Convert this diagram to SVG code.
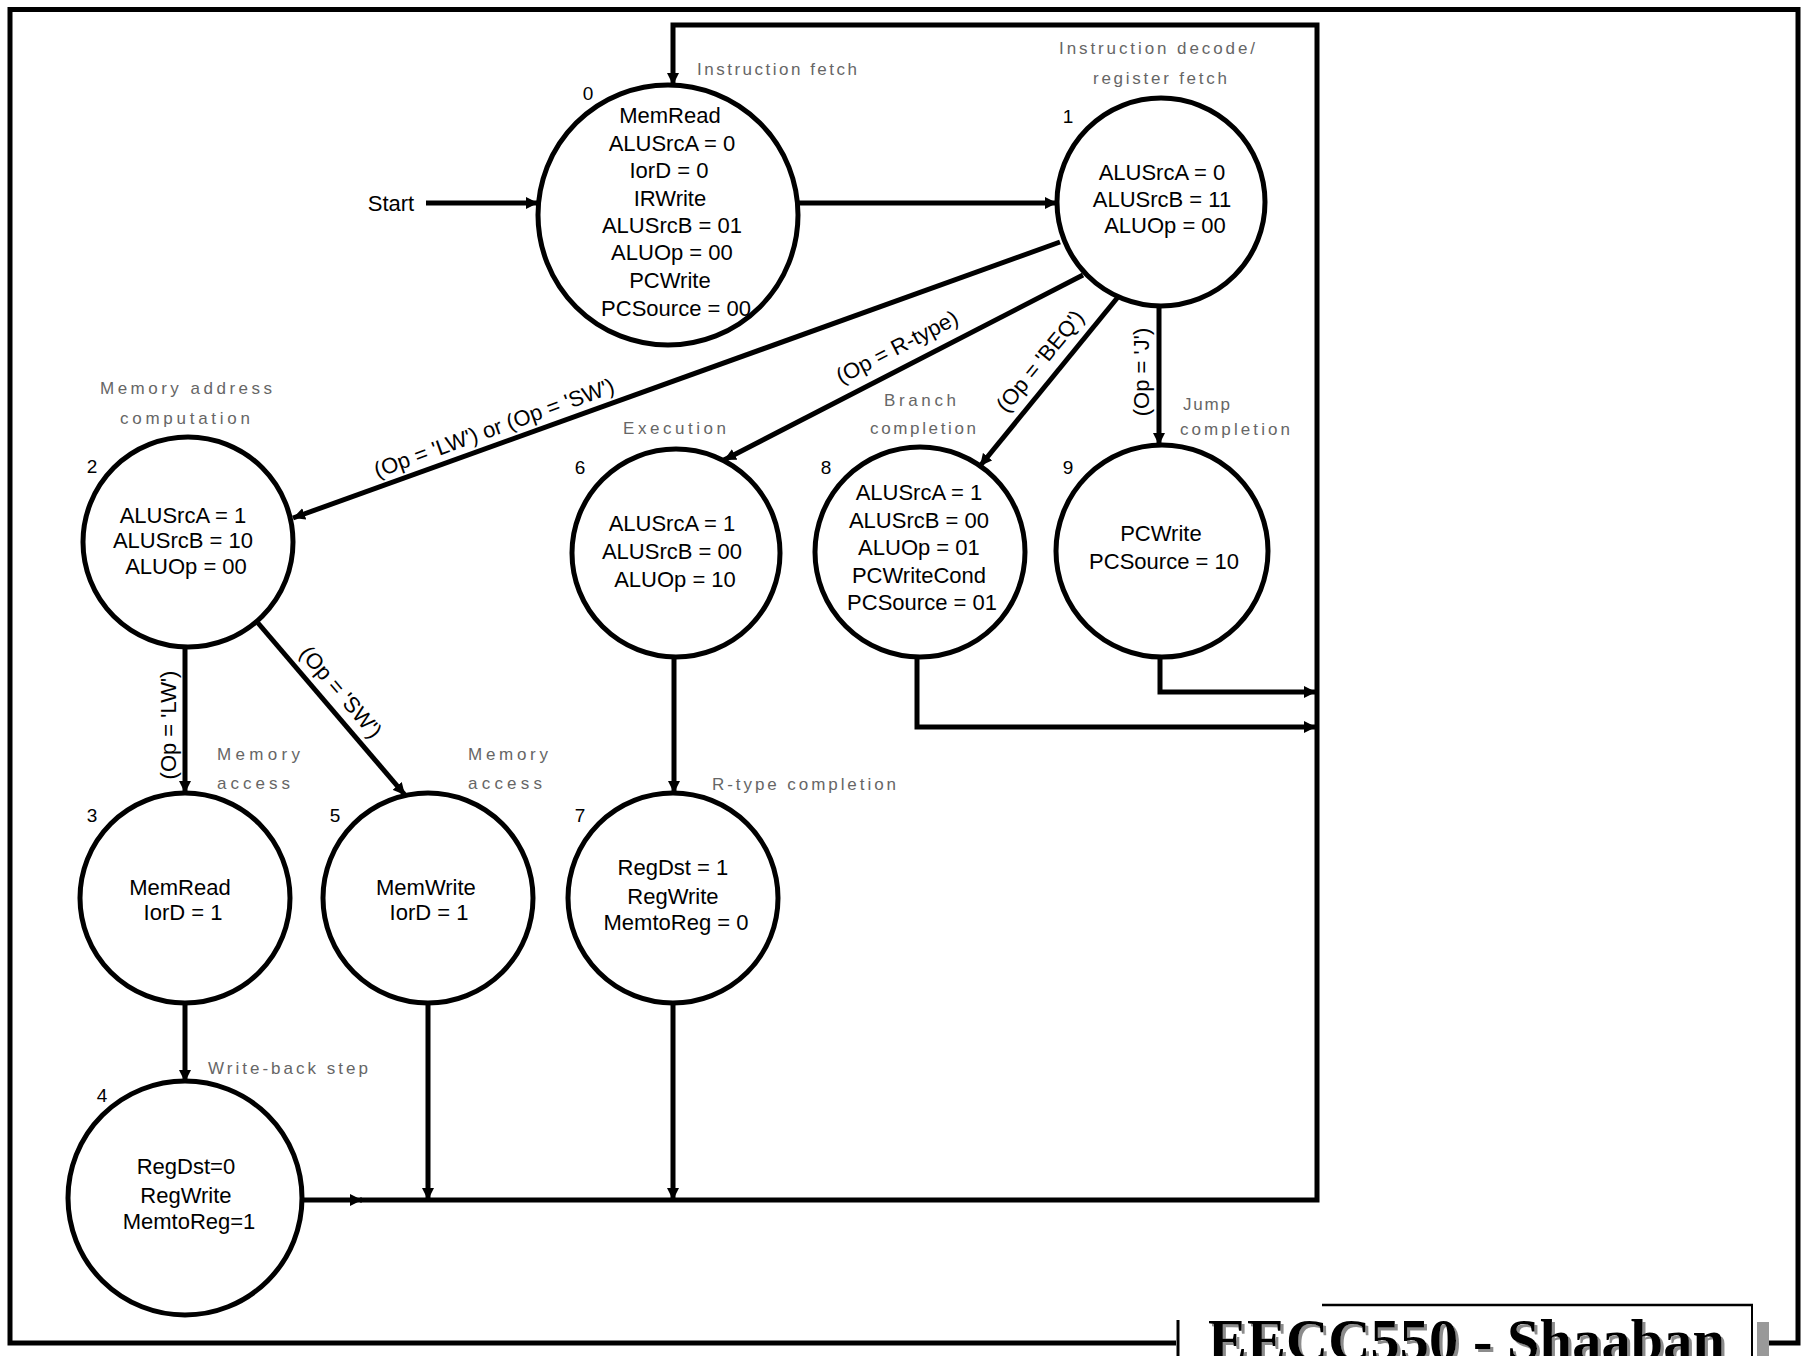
<svg xmlns="http://www.w3.org/2000/svg" width="1807" height="1356" viewBox="0 0 1807 1356">
  <style>
    .bg { fill: #fff; }
    .frame { fill: none; stroke: #000; stroke-width: 5; }
    .state { fill: #fff; stroke: #000; stroke-width: 5; }
    .body { font-family: "Liberation Sans", Arial, sans-serif; font-size: 22px; text-anchor: middle; fill: #000; }
    .num { font-family: "Liberation Sans", Arial, sans-serif; font-size: 19px; text-anchor: middle; fill: #000; }
    .step { font-family: "Liberation Sans", Arial, sans-serif; font-size: 17px; fill: #666; }
    .cond { font-family: "Liberation Sans", Arial, sans-serif; font-size: 22px; text-anchor: middle; fill: #000; }
    .wire { fill: none; stroke: #000; stroke-width: 5; }
    .title { font-family: "Liberation Serif", "Times New Roman", serif; font-size: 59px; font-weight: bold; fill: #000; }
  </style>
  <defs>
    <marker id="arrow" markerUnits="userSpaceOnUse" markerWidth="13" markerHeight="13" refX="12" refY="6.5" orient="auto">
      <path d="M0,0.5 L12,6.5 L0,12.5 Z" fill="#000"/>
    </marker>
    <filter id="shadow" x="-5%" y="-20%" width="110%" height="140%">
      <feDropShadow dx="3" dy="3" stdDeviation="0.4" flood-color="#8c8c8c" flood-opacity="1"/>
    </filter>
  </defs>

  <rect class="bg" x="0" y="0" width="1807" height="1356"/>

  <!-- slide frame -->
  <rect class="frame" x="10" y="9.5" width="1788" height="1333.5"/>

  <!-- connectors -->
  <g id="connectors">
    <path class="wire" d="M426,203 H538" marker-end="url(#arrow)"/>
    <path class="wire" d="M798,203 H1057" marker-end="url(#arrow)"/>
    <path class="wire" d="M1060,242 L293,518" marker-end="url(#arrow)"/>
    <path class="wire" d="M1083,275 L724,460" marker-end="url(#arrow)"/>
    <path class="wire" d="M1118,297 L980,466" marker-end="url(#arrow)"/>
    <path class="wire" d="M1159,306 V445" marker-end="url(#arrow)"/>
    <path class="wire" d="M185,647 V793" marker-end="url(#arrow)"/>
    <path class="wire" d="M258,623 L405,795" marker-end="url(#arrow)"/>
    <path class="wire" d="M674,657 V793" marker-end="url(#arrow)"/>
    <path class="wire" d="M185,1003 V1082" marker-end="url(#arrow)"/>
    <path class="wire" d="M428,1003 V1200" marker-end="url(#arrow)"/>
    <path class="wire" d="M673,1003 V1200" marker-end="url(#arrow)"/>
    <path class="wire" d="M917,657 V727 H1316" marker-end="url(#arrow)"/>
    <path class="wire" d="M1160,657 V692 H1316" marker-end="url(#arrow)"/>
    <!-- return path to state 0 -->
    <path class="wire" d="M302,1200 H362" marker-end="url(#arrow)"/>
    <path class="wire" d="M360,1200 H1317 V25 H673 V85" marker-end="url(#arrow)"/>

    <!-- branch conditions -->
    <g transform="translate(494,428) rotate(-19.8)"><text class="cond" x="0" y="7.5">(Op = 'LW') or (Op = 'SW')</text></g>
    <g transform="translate(897,347) rotate(-27.3)"><text class="cond" x="0" y="7.5">(Op = R-type)</text></g>
    <g transform="translate(1040,361) rotate(-50.7)"><text class="cond" x="0" y="7.5">(Op = 'BEQ')</text></g>
    <g transform="translate(1141,372) rotate(-90)"><text class="cond" x="0" y="7.5">(Op = 'J')</text></g>
    <g transform="translate(168,725) rotate(-90)"><text class="cond" x="0" y="7.5">(Op = 'LW')</text></g>
    <g transform="translate(341,692) rotate(49.4)"><text class="cond" x="0" y="7.5">(Op = 'SW')</text></g>
  </g>

  <text class="body" x="391" y="211">Start</text>

  <!-- state 0: instruction fetch -->
  <g id="state0">
    <circle class="state" cx="668" cy="215" r="130"/>
    <text class="num" x="588" y="100">0</text>
    <text class="step" x="697" y="75" textLength="160">Instruction fetch</text>
    <text class="body">
      <tspan x="673" y="123">MemRead</tspan>
      <tspan x="675" y="151">ALUSrcA = 0</tspan>
      <tspan x="672" y="178">IorD = 0</tspan>
      <tspan x="673" y="206">IRWrite</tspan>
      <tspan x="675" y="233">ALUSrcB = 01</tspan>
      <tspan x="675" y="260">ALUOp = 00</tspan>
      <tspan x="673" y="288">PCWrite</tspan>
      <tspan x="676" y="316">PCSource = 00</tspan>
    </text>
  </g>

  <!-- state 1: decode / register fetch -->
  <g id="state1">
    <circle class="state" cx="1161" cy="202" r="104"/>
    <text class="num" x="1068" y="123">1</text>
    <text class="step" x="1059" y="54" textLength="196">Instruction decode/</text>
    <text class="step" x="1093" y="84" textLength="134">register fetch</text>
    <text class="body">
      <tspan x="1165" y="180">ALUSrcA = 0</tspan>
      <tspan x="1165" y="207">ALUSrcB = 11</tspan>
      <tspan x="1165" y="233">ALUOp = 00</tspan>
    </text>
  </g>

  <!-- state 2: memory address computation -->
  <g id="state2">
    <circle class="state" cx="188" cy="542" r="105"/>
    <text class="num" x="92" y="473">2</text>
    <text class="step" x="100" y="394" textLength="172">Memory address</text>
    <text class="step" x="120" y="424" textLength="130">computation</text>
    <text class="body">
      <tspan x="186" y="523">ALUSrcA = 1</tspan>
      <tspan x="186" y="548">ALUSrcB = 10</tspan>
      <tspan x="186" y="574">ALUOp = 00</tspan>
    </text>
  </g>

  <!-- state 6: execution -->
  <g id="state6">
    <circle class="state" cx="676" cy="553" r="104"/>
    <text class="num" x="580" y="474">6</text>
    <text class="step" x="623" y="434" textLength="103">Execution</text>
    <text class="body">
      <tspan x="675" y="531">ALUSrcA = 1</tspan>
      <tspan x="675" y="559">ALUSrcB = 00</tspan>
      <tspan x="675" y="587">ALUOp = 10</tspan>
    </text>
  </g>

  <!-- state 8: branch completion -->
  <g id="state8">
    <circle class="state" cx="920" cy="552" r="105"/>
    <text class="num" x="826" y="474">8</text>
    <text class="step" x="884" y="406" textLength="72">Branch</text>
    <text class="step" x="870" y="434" textLength="106">completion</text>
    <text class="body">
      <tspan x="922" y="500">ALUSrcA = 1</tspan>
      <tspan x="922" y="528">ALUSrcB = 00</tspan>
      <tspan x="922" y="555">ALUOp = 01</tspan>
      <tspan x="922" y="583">PCWriteCond</tspan>
      <tspan x="922" y="610">PCSource = 01</tspan>
    </text>
  </g>

  <!-- state 9: jump completion -->
  <g id="state9">
    <circle class="state" cx="1162" cy="551" r="106"/>
    <text class="num" x="1068" y="474">9</text>
    <text class="step" x="1183" y="410" textLength="47">Jump</text>
    <text class="step" x="1180" y="435" textLength="110">completion</text>
    <text class="body">
      <tspan x="1164" y="541">PCWrite</tspan>
      <tspan x="1164" y="569">PCSource = 10</tspan>
    </text>
  </g>

  <!-- state 3: memory access (load) -->
  <g id="state3">
    <circle class="state" cx="185" cy="898" r="105"/>
    <text class="num" x="92" y="822">3</text>
    <text class="step" x="217" y="760" textLength="83">Memory</text>
    <text class="step" x="217" y="789" textLength="73">access</text>
    <text class="body">
      <tspan x="183" y="895">MemRead</tspan>
      <tspan x="183" y="920">IorD = 1</tspan>
    </text>
  </g>

  <!-- state 5: memory access (store) -->
  <g id="state5">
    <circle class="state" cx="428" cy="898" r="105"/>
    <text class="num" x="335" y="822">5</text>
    <text class="step" x="468" y="760" textLength="80">Memory</text>
    <text class="step" x="468" y="789" textLength="74">access</text>
    <text class="body">
      <tspan x="429" y="895">MemWrite</tspan>
      <tspan x="429" y="920">IorD = 1</tspan>
    </text>
  </g>

  <!-- state 7: R-type completion -->
  <g id="state7">
    <circle class="state" cx="673" cy="898" r="105"/>
    <text class="num" x="580" y="822">7</text>
    <text class="step" x="712" y="790" textLength="184">R-type completion</text>
    <text class="body">
      <tspan x="676" y="875">RegDst = 1</tspan>
      <tspan x="676" y="904">RegWrite</tspan>
      <tspan x="676" y="930">MemtoReg = 0</tspan>
    </text>
  </g>

  <!-- state 4: write-back -->
  <g id="state4">
    <circle class="state" cx="185" cy="1198" r="117"/>
    <text class="num" x="102" y="1102">4</text>
    <text class="step" x="208" y="1074" textLength="160">Write-back step</text>
    <text class="body">
      <tspan x="189" y="1174">RegDst=0</tspan>
      <tspan x="189" y="1203">RegWrite</tspan>
      <tspan x="189" y="1229">MemtoReg=1</tspan>
    </text>
  </g>

  <!-- footer title plate (runs off the bottom of the slide) -->
  <g id="footer">
    <rect x="1176" y="1303" width="592" height="53" fill="#fff"/>
    <path d="M1322,1305 H1753" stroke="#000" stroke-width="2.5" fill="none"/>
    <path d="M1752,1305 V1356" stroke="#000" stroke-width="2" fill="none"/>
    <path d="M1178,1320 V1356" stroke="#000" stroke-width="3" fill="none"/>
    <rect x="1757" y="1322" width="12" height="34" fill="#999"/>
    <text class="title" x="1208" y="1360" textLength="517" lengthAdjust="spacingAndGlyphs" filter="url(#shadow)">EECC550 - Shaaban</text>
  </g>
</svg>
